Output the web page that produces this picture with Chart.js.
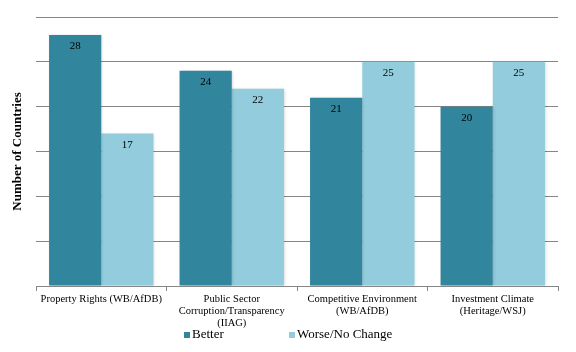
<!DOCTYPE html>
<html><head><meta charset="utf-8">
<script src="https://cdn.jsdelivr.net/npm/chart.js@4.4.1/dist/chart.umd.min.js"></script>
<style>html,body{margin:0;padding:0;background:#fff}#wrap{width:576px;height:352px}</style>
</head><body><div id="wrap"><canvas id="c" width="576" height="352"></canvas></div>
<script>
const categories = [
  ["Property Rights (WB/AfDB)"],
  ["Public Sector", "Corruption/Transparency", "(IIAG)"],
  ["Competitive Environment", "(WB/AfDB)"],
  ["Investment Climate", "(Heritage/WSJ)"]
];
const seriesNames = ["Better", "Worse/No Change"];
const betterValues = [28, 24, 21, 20];
const worseValues = [17, 22, 25, 25];
const yTicks = [0, 5, 10, 15, 20, 25, 30];

const colors = ["#31859C", "#93CDDD"];
const SERIF = "'Liberation Serif', 'Times New Roman', serif";

const barLabels = {
  id: 'barLabels',
  afterDatasetsDraw(chart) {
    const ctx = chart.ctx;
    ctx.save();
    ctx.font = "11px " + SERIF;
    ctx.fillStyle = "#000";
    ctx.textAlign = "center";
    ctx.textBaseline = "middle";
    chart.data.datasets.forEach((ds, i) => {
      chart.getDatasetMeta(i).data.forEach((bar, j) => {
        ctx.fillText(String(ds.data[j]), bar.x, bar.y + 11.5);
      });
    });
    ctx.restore();
  }
};

const barShadow = {
  id: 'barShadow',
  beforeDatasetsDraw(chart) {
    const ctx = chart.ctx;
    ctx.save();
    ctx.shadowColor = "rgba(0,0,0,0.18)";
    ctx.shadowBlur = 3;
    ctx.shadowOffsetX = 1;
    ctx.shadowOffsetY = 0;
  },
  afterDatasetsDraw(chart) {
    chart.ctx.restore();
  }
};

const customLegend = {
  id: 'customLegend',
  afterDraw(chart) {
    const ctx = chart.ctx;
    ctx.save();
    ctx.font = "13px " + SERIF;
    ctx.textBaseline = "middle";
    ctx.textAlign = "left";
    const xs = [184, 289];
    const y = 335;
    chart.data.datasets.forEach((ds, i) => {
      ctx.fillStyle = ds.backgroundColor;
      ctx.fillRect(xs[i], y - 3, 6, 6);
      ctx.fillStyle = "#000";
      ctx.fillText(ds.label, xs[i] + 8, y);
    });
    ctx.restore();
  }
};

new Chart(document.getElementById('c'), {
  type: 'bar',
  data: {
    labels: categories,
    datasets: [
      { label: seriesNames[0], data: betterValues, backgroundColor: colors[0] },
      { label: seriesNames[1], data: worseValues, backgroundColor: colors[1] }
    ]
  },
  options: {
    responsive: false,
    animation: false,
    devicePixelRatio: 1,
    layout: { padding: { top: 17, right: 18, left: 0, bottom: 0 } },
    datasets: { bar: { categoryPercentage: 0.8, barPercentage: 1.0 } },
    plugins: { legend: { display: false }, tooltip: { enabled: false } },
    scales: {
      x: {
        grid: { display: true, drawOnChartArea: false, drawTicks: true, tickLength: 5, offset: true, color: "#868686" },
        border: { display: true, color: "#868686" },
        ticks: { color: "#000", font: { family: SERIF, size: 10.5, lineHeight: 1.15 }, padding: 2, maxRotation: 0, autoSkip: false },
        afterFit(s) { s.height = 66; }
      },
      y: {
        min: 0, max: 30,
        afterBuildTicks(s) { s.ticks = yTicks.map(v => ({ value: v })); },
        grid: { color: "#868686", drawTicks: false },
        border: { display: false },
        ticks: { display: false },
        title: { display: true, text: "Number of Countries", color: "#000", font: { family: SERIF, size: 13, weight: 'bold' }, padding: { top: 10, bottom: 0 } },
        afterFit(s) { s.width = 36; }
      }
    }
  },
  plugins: [barShadow, barLabels, customLegend]
});
</script></body></html>
